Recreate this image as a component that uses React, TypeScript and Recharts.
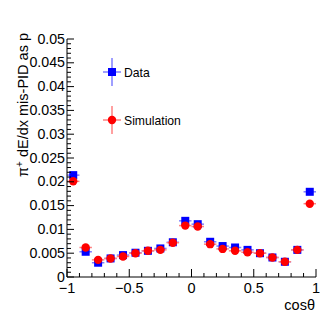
import { ComposedChart, Scatter, XAxis, YAxis, ErrorBar, Legend } from "recharts";

// bin centres in cos(theta)
const bins = [-0.95, -0.85, -0.75, -0.65, -0.55, -0.45, -0.35, -0.25, -0.15, -0.05, 0.05, 0.15, 0.25, 0.35, 0.45, 0.55, 0.65, 0.75, 0.85, 0.95];
const binHalfWidth = 0.05;

const dataValues = [0.0214, 0.0053, 0.003, 0.0039, 0.0046, 0.0051, 0.0055, 0.006, 0.0073, 0.0118, 0.0111, 0.0074, 0.0065, 0.0062, 0.0057, 0.005, 0.0041, 0.0032, 0.0057, 0.0179];
const dataErrors = [0.0004, 0.0002, 0.0002, 0.0002, 0.0002, 0.0002, 0.0002, 0.0002, 0.0002, 0.0003, 0.0003, 0.0002, 0.0002, 0.0002, 0.0002, 0.0002, 0.0002, 0.0002, 0.0002, 0.0004];
const simValues = [0.0201, 0.0062, 0.0036, 0.0039, 0.0043, 0.005, 0.0055, 0.0057, 0.0072, 0.0108, 0.0106, 0.0069, 0.0059, 0.0055, 0.0052, 0.005, 0.0041, 0.0032, 0.0057, 0.0154];
const simErrors = [0.0003, 0.0002, 0.0001, 0.0001, 0.0001, 0.0001, 0.0001, 0.0001, 0.0001, 0.0002, 0.0002, 0.0001, 0.0001, 0.0001, 0.0001, 0.0001, 0.0001, 0.0001, 0.0001, 0.0003];

// axis ticks
const xMajor = [-1, -0.5, 0, 0.5, 1];
const xMajorLabels = ["\u22121", "\u22120.5", "0", "0.5", "1"];
const yMajor = [0, 0.005, 0.01, 0.015, 0.02, 0.025, 0.03, 0.035, 0.04, 0.045, 0.05];
const yMajorLabels = ["0", "0.005", "0.01", "0.015", "0.02", "0.025", "0.03", "0.035", "0.04", "0.045", "0.05"];
const xTicks = Array.from({ length: 21 }, (_, i) => Math.round((-1 + i * 0.1) * 10) / 10);
const yTicks = Array.from({ length: 51 }, (_, i) => i / 1000);

const BLUE = "#0000ff";
const RED = "#ff0000";
const FONT = "'Liberation Sans', Arial, Helvetica, sans-serif";

const dataPoints = bins.map((x, i) => ({ x, y: dataValues[i], ex: binHalfWidth, ey: dataErrors[i] }));
const simPoints = bins.map((x, i) => ({ x, y: simValues[i], ex: binHalfWidth, ey: simErrors[i] }));

const majorIndex = (list: number[], v: number) => list.findIndex((m) => Math.abs(m - v) < 1e-9);

const BottomTick = ({ x, y, payload }: any) => {
  const k = majorIndex(xMajor, payload.value);
  return (
    <g>
      <line x1={x} x2={x} y1={y} y2={y - (k >= 0 ? 8 : 4)} stroke="#000" />
      {k >= 0 && (
        <text x={x} y={y + 16} textAnchor="middle" fontSize={14.5} fontFamily={FONT} fill="#000">
          {xMajorLabels[k]}
        </text>
      )}
    </g>
  );
};

const TopTick = ({ x, y, payload }: any) => {
  const k = majorIndex(xMajor, payload.value);
  return <line x1={x} x2={x} y1={y} y2={y + (k >= 0 ? 8 : 4)} stroke="#000" />;
};

const LeftTick = ({ x, y, payload }: any) => {
  const k = majorIndex(yMajor, payload.value);
  return (
    <g>
      <line x1={x} x2={x + (k >= 0 ? 7 : 4)} y1={y} y2={y} stroke="#000" />
      {k >= 0 && (
        <text x={x - 2} y={y + 4.5} textAnchor="end" fontSize={14.2} fontFamily={FONT} fill="#000">
          {yMajorLabels[k]}
        </text>
      )}
    </g>
  );
};

const RightTick = ({ x, y, payload }: any) => {
  const k = majorIndex(yMajor, payload.value);
  return <line x1={x} x2={x - (k >= 0 ? 7 : 4)} y1={y} y2={y} stroke="#000" />;
};

const Square = ({ cx, cy }: any) => <rect x={cx - 4} y={cy - 4} width={8} height={8} fill={BLUE} />;
const Dot = ({ cx, cy }: any) => <circle cx={cx} cy={cy} r={4.2} fill={RED} />;

const LegendBox = ({ payload }: any) => (
  <svg width={120} height={90} style={{ overflow: "visible" }}>
    {(payload || []).map((entry: any, i: number) => {
      const cy = 22 + i * 48;
      const isData = entry.value === "Data";
      const err = isData ? "#7f7fff" : "#ff8080";
      return (
        <g key={entry.value}>
          <line x1={16} x2={16} y1={cy - 14} y2={cy + 14} stroke={err} strokeWidth={1.5} />
          <line x1={7} x2={25} y1={cy} y2={cy} stroke={err} strokeWidth={1.5} />
          {isData ? (
            <rect x={12} y={cy - 4} width={8} height={8} fill={BLUE} />
          ) : (
            <circle cx={16} cy={cy} r={4.2} fill={RED} />
          )}
          <text x={28} y={cy + 4.5} fontSize={12.2} fontFamily={FONT} fill="#000">
            {entry.value}
          </text>
        </g>
      );
    })}
  </svg>
);

export default function App() {
  return (
    <div style={{ position: "absolute", left: 0, top: 0, width: 332, height: 319, background: "#fff" }}>
      <ComposedChart width={332} height={319} margin={{ top: 39, right: 16, bottom: 0, left: 0 }}>
        <XAxis xAxisId="b" type="number" dataKey="x" domain={[-1, 1]} ticks={xTicks} interval={0} height={42}
          tickSize={0} tickMargin={0} tickLine={false} tick={<BottomTick />} axisLine={{ stroke: "#000" }} allowDataOverflow />
        <XAxis xAxisId="t" orientation="top" type="number" domain={[-1, 1]} ticks={xTicks} interval={0} height={0}
          tickSize={0} tickMargin={0} tickLine={false} tick={<TopTick />} axisLine={{ stroke: "#000" }} allowDataOverflow />
        <YAxis yAxisId="l" type="number" dataKey="y" domain={[0, 0.05]} ticks={yTicks} interval={0} width={67}
          tickSize={0} tickMargin={0} tickLine={false} tick={<LeftTick />} axisLine={{ stroke: "#000" }} allowDataOverflow />
        <YAxis yAxisId="r" orientation="right" type="number" domain={[0, 0.05]} ticks={yTicks} interval={0} width={0}
          tickSize={0} tickMargin={0} tickLine={false} tick={<RightTick />} axisLine={{ stroke: "#000" }} allowDataOverflow />
        <Legend layout="vertical" verticalAlign="middle" align="center" content={<LegendBox />}
          wrapperStyle={{ position: "absolute", left: 96, top: 50, width: 120, height: 90 }} />
        <Scatter name="Data" data={dataPoints} xAxisId="b" yAxisId="l" fill={BLUE} shape={<Square />} isAnimationActive={false}>
          <ErrorBar dataKey="ex" direction="x" width={0} stroke="#7f7fff" strokeWidth={1.5} />
          <ErrorBar dataKey="ey" direction="y" width={0} stroke="#7f7fff" strokeWidth={1.5} />
        </Scatter>
        <Scatter name="Simulation" data={simPoints} xAxisId="b" yAxisId="l" fill={RED} shape={<Dot />} isAnimationActive={false}>
          <ErrorBar dataKey="ex" direction="x" width={0} stroke="#ff8080" strokeWidth={1.5} />
          <ErrorBar dataKey="ey" direction="y" width={0} stroke="#ff8080" strokeWidth={1.5} />
        </Scatter>
      </ComposedChart>
      <svg width={332} height={319} style={{ position: "absolute", left: 0, top: 0, pointerEvents: "none" }}>
        <text transform="translate(27.5,33) rotate(-90)" textAnchor="end" fontSize={14.5} fontFamily={FONT} fill="#000">
          {"\u03c0"}
          <tspan dy={-5} fontSize={10}>+</tspan>
          <tspan dy={5}> dE/dx mis-PID as p</tspan>
        </text>
        <text x={315} y={310} textAnchor="end" fontSize={14.5} fontFamily={FONT} fill="#000">
          cos{"\u03b8"}
        </text>
      </svg>
    </div>
  );
}
